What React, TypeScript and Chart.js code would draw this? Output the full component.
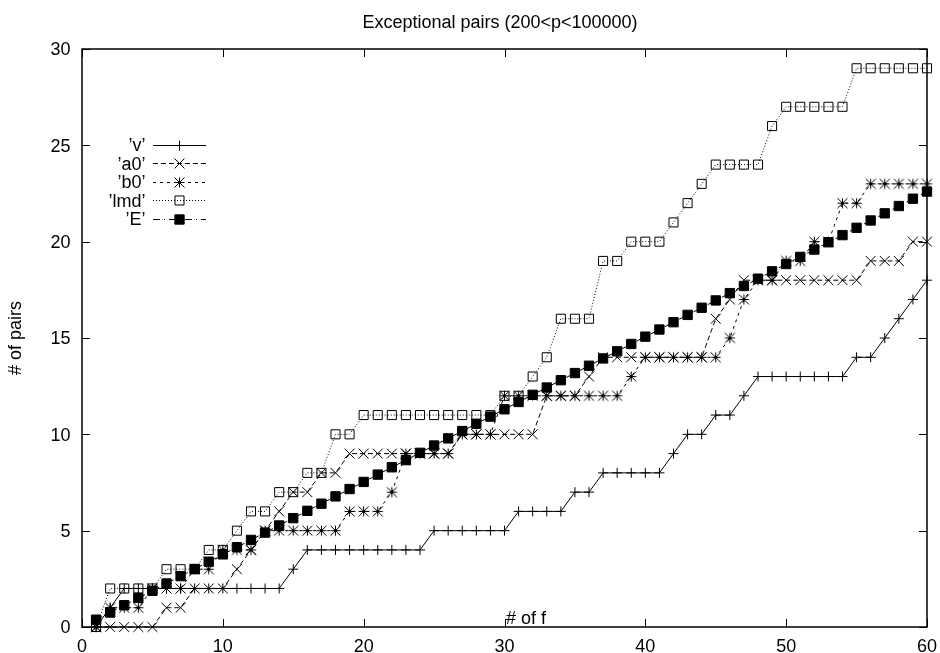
import React, { useEffect, useRef } from 'react';
import { Chart, registerables } from 'chart.js';
import { drawPoint } from 'chart.js/helpers';

Chart.register(...registerables);

// ---- data ----
const F_VALUES = [1, 2, 3, 4, 5, 6, 7, 8, 9, 10, 11, 12, 13, 14, 15, 16, 17, 18, 19, 20,
  21, 22, 23, 24, 25, 26, 27, 28, 29, 30, 31, 32, 33, 34, 35, 36, 37, 38, 39, 40,
  41, 42, 43, 44, 45, 46, 47, 48, 49, 50, 51, 52, 53, 54, 55, 56, 57, 58, 59, 60];

const V_VALUES = [0, 1, 2, 2, 2, 2, 2, 2, 2, 2, 2, 2, 2, 2, 3, 4, 4, 4, 4, 4,
  4, 4, 4, 4, 5, 5, 5, 5, 5, 5, 6, 6, 6, 6, 7, 7, 8, 8, 8, 8,
  8, 9, 10, 10, 11, 11, 12, 13, 13, 13, 13, 13, 13, 13, 14, 14, 15, 16, 17, 18];

const A0_VALUES = [0, 0, 0, 0, 0, 1, 1, 2, 2, 2, 3, 4, 5, 6, 7, 7, 8, 8, 9, 9,
  9, 9, 9, 9, 9, 9, 10, 10, 10, 10, 10, 10, 12, 12, 12, 13, 14, 14, 14, 14,
  14, 14, 14, 14, 16, 17, 18, 18, 18, 18, 18, 18, 18, 18, 18, 19, 19, 19, 20, 20];

const B0_VALUES = [0, 1, 1, 1, 2, 2, 2, 3, 3, 4, 4, 4, 5, 5, 5, 5, 5, 5, 6, 6,
  6, 7, 9, 9, 9, 9, 10, 10, 10, 12, 12, 12, 12, 12, 12, 12, 12, 12, 13, 14,
  14, 14, 14, 14, 14, 15, 17, 18, 18, 19, 19, 20, 20, 22, 22, 23, 23, 23, 23, 23];

const LMD_VALUES = [0, 2, 2, 2, 2, 3, 3, 3, 4, 4, 5, 6, 6, 7, 7, 8, 8, 10, 10, 11,
  11, 11, 11, 11, 11, 11, 11, 11, 11, 12, 12, 13, 14, 16, 16, 16, 19, 19, 20, 20,
  20, 21, 22, 23, 24, 24, 24, 24, 26, 27, 27, 27, 27, 27, 29, 29, 29, 29, 29, 29];

const E_VALUES = [0.38, 0.75, 1.13, 1.51, 1.88, 2.26, 2.64, 3.01, 3.39, 3.77,
  4.14, 4.52, 4.90, 5.27, 5.65, 6.03, 6.40, 6.78, 7.16, 7.53,
  7.91, 8.29, 8.66, 9.04, 9.42, 9.79, 10.17, 10.55, 10.92, 11.30,
  11.68, 12.05, 12.43, 12.81, 13.18, 13.56, 13.94, 14.31, 14.69, 15.07,
  15.44, 15.82, 16.20, 16.57, 16.95, 17.33, 17.70, 18.08, 18.46, 18.84,
  19.21, 19.59, 19.97, 20.34, 20.72, 21.10, 21.47, 21.85, 22.23, 22.60];

const SERIES_NAMES = ['\u2019v\u2019', '\u2019a0\u2019', '\u2019b0\u2019', '\u2019lmd\u2019', '\u2019E\u2019'];
const X_TICKS = [0, 10, 20, 30, 40, 50, 60];
const Y_TICKS = [0, 5, 10, 15, 20, 25, 30];
const TITLE = 'Exceptional pairs (200<p<100000)';
const X_LABEL = '# of f';
const Y_LABEL = '# of pairs';

const FONT = '"Liberation Sans", Arial, Helvetica, sans-serif';

function makeAsterisk(): HTMLCanvasElement {
  const c = document.createElement('canvas');
  c.width = 13;
  c.height = 13;
  const g = c.getContext('2d')!;
  g.strokeStyle = '#000';
  g.lineWidth = 1;
  const m = 6.5;
  const s = 5;
  g.beginPath();
  g.moveTo(m - s, m); g.lineTo(m + s, m);
  g.moveTo(m, m - s); g.lineTo(m, m + s);
  g.moveTo(m - s, m - s); g.lineTo(m + s, m + s);
  g.moveTo(m - s, m + s); g.lineTo(m + s, m - s);
  g.stroke();
  return c;
}

const framePlugin = {
  id: 'gnuplotFrame',
  beforeDatasetsDraw(chart: any) {
    const { ctx, chartArea: a, scales } = chart;
    const xs = scales.x;
    const ys = scales.y;
    ctx.save();
    ctx.strokeStyle = '#000';
    ctx.lineWidth = 1;
    ctx.beginPath();
    X_TICKS.forEach((v) => {
      const p = Math.round(xs.getPixelForValue(v)) + 0.5;
      ctx.moveTo(p, a.bottom);
      ctx.lineTo(p, a.bottom - 8);
      ctx.moveTo(p, a.top);
      ctx.lineTo(p, a.top + 8);
    });
    Y_TICKS.forEach((v) => {
      const p = Math.round(ys.getPixelForValue(v)) + 0.5;
      ctx.moveTo(a.left, p);
      ctx.lineTo(a.left + 8, p);
      ctx.moveTo(a.right, p);
      ctx.lineTo(a.right - 8, p);
    });
    ctx.stroke();
    ctx.lineWidth = 1.5;
    ctx.strokeRect(a.left, a.top, a.right - a.left, a.bottom - a.top);
    ctx.restore();
  },
  afterDraw(chart: any) {
    const { ctx, scales } = chart;
    const xs = scales.x;
    const ys = scales.y;
    ctx.save();
    ctx.fillStyle = '#000';
    ctx.font = `18px ${FONT}`;
    ctx.textBaseline = 'alphabetic';
    ctx.textAlign = 'right';
    Y_TICKS.forEach((v) => ctx.fillText(String(v), 70.5, ys.getPixelForValue(v) + 6.4));
    ctx.textAlign = 'center';
    X_TICKS.forEach((v) => ctx.fillText(String(v), xs.getPixelForValue(v), 652));
    ctx.fillText(TITLE, 500, 28);
    ctx.textAlign = 'left';
    ctx.fillText(X_LABEL, 506, 623.5);
    ctx.save();
    ctx.translate(21.2, 338);
    ctx.rotate(-Math.PI / 2);
    ctx.textAlign = 'center';
    ctx.fillText(Y_LABEL, 0, 0);
    ctx.restore();

    // key
    chart.data.datasets.forEach((ds: any, i: number) => {
      const y = 144.8 + i * 18.5;
      const ly = Math.round(y) + 0.5;
      ctx.textAlign = 'right';
      ctx.fillStyle = '#000';
      ctx.fillText(ds.label, 145.5, y + 6.4);
      ctx.save();
      ctx.strokeStyle = '#000';
      ctx.lineWidth = 1;
      ctx.setLineDash(ds.borderDash || []);
      ctx.beginPath();
      ctx.moveTo(153, ly);
      ctx.lineTo(206, ly);
      ctx.stroke();
      ctx.restore();
      ctx.save();
      ctx.setLineDash([]);
      ctx.fillStyle = ds.pointBackgroundColor;
      ctx.strokeStyle = '#000';
      ctx.lineWidth = 1;
      drawPoint(ctx, { pointStyle: ds.pointStyle, radius: ds.pointRadius, rotation: 0, borderWidth: 1 } as any, 179.5, ly);
      ctx.restore();
    });
    ctx.restore();
  },
};

function toPoints(values: number[]) {
  return F_VALUES.map((f, i) => ({ x: f, y: values[i] }));
}

export default function App() {
  const canvasRef = useRef<HTMLCanvasElement | null>(null);

  useEffect(() => {
    if (!canvasRef.current) return;
    const asterisk = makeAsterisk();
    const base = {
      borderColor: '#000',
      borderWidth: 1,
      pointBorderColor: '#000',
      pointBorderWidth: 1,
      fill: false,
      tension: 0,
      clip: false as any,
    };
    const chart = new Chart(canvasRef.current, {
      type: 'line',
      data: {
        datasets: [
          { ...base, label: SERIES_NAMES[0], data: toPoints(V_VALUES), borderDash: [], pointStyle: 'cross', pointRadius: 5, pointBackgroundColor: 'rgba(0,0,0,0)', order: 5 },
          { ...base, label: SERIES_NAMES[1], data: toPoints(A0_VALUES), borderDash: [5, 3], pointStyle: 'crossRot', pointRadius: 7, pointBackgroundColor: 'rgba(0,0,0,0)', order: 4 },
          { ...base, label: SERIES_NAMES[2], data: toPoints(B0_VALUES), borderDash: [3, 4], pointStyle: asterisk as any, pointRadius: 6, pointBackgroundColor: 'rgba(0,0,0,0)', order: 3 },
          { ...base, label: SERIES_NAMES[3], data: toPoints(LMD_VALUES), borderDash: [1, 2], pointStyle: 'rect', pointRadius: 6.4, pointBackgroundColor: 'rgba(0,0,0,0)', order: 2 },
          { ...base, label: SERIES_NAMES[4], data: toPoints(E_VALUES), borderDash: [7, 4, 1, 4], pointStyle: 'rect', pointRadius: 6.6, pointBackgroundColor: '#000', order: 1 },
        ] as any,
      },
      options: {
        animation: false,
        responsive: false,
        events: [],
        layout: { padding: { left: 82, right: 13, top: 49, bottom: 26 } },
        scales: {
          x: { type: 'linear', min: 0, max: 60, display: false },
          y: { type: 'linear', min: 0, max: 30, display: false },
        },
        plugins: {
          legend: { display: false },
          tooltip: { enabled: false },
        },
      },
      plugins: [framePlugin as any],
    });
    return () => chart.destroy();
  }, []);

  return (
    <div style={{ position: 'absolute', left: 0, top: 0, width: 940, height: 653, background: '#fff' }}>
      <canvas ref={canvasRef} width={940} height={653} style={{ display: 'block' }} />
    </div>
  );
}
